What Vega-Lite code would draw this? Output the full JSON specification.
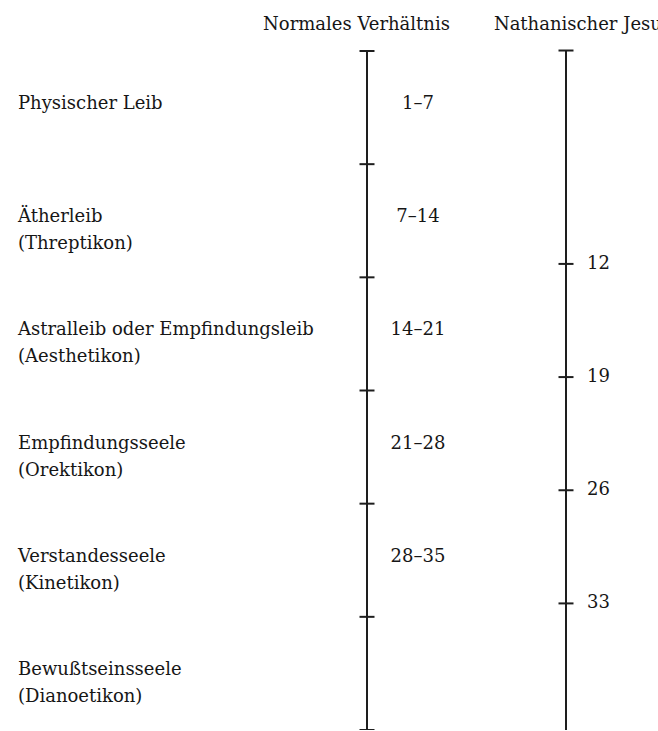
{
  "$schema": "https://vega.github.io/schema/vega-lite/v6.json",
  "width": 658,
  "height": 679,
  "autosize": "none",
  "padding": {"left": 0, "top": 51, "right": 0, "bottom": 0},
  "background": "white",
  "config": {
    "view": {"stroke": null},
    "font": "DejaVu Serif",
    "text": {"font": "DejaVu Serif", "fontSize": 18, "color": "#161616"}
  },
  "datasets": {
    "segments": [
      {"col": 0, "from": 0, "to": 7, "stage": "Physischer Leib", "range": "1–7"},
      {"col": 0, "from": 7, "to": 14, "stage": "Ätherleib\n(Threptikon)", "range": "7–14"},
      {"col": 0, "from": 14, "to": 21, "stage": "Astralleib oder Empfindungsleib\n(Aesthetikon)", "range": "14–21"},
      {"col": 0, "from": 21, "to": 28, "stage": "Empfindungsseele\n(Orektikon)", "range": "21–28"},
      {"col": 0, "from": 28, "to": 35, "stage": "Verstandesseele\n(Kinetikon)", "range": "28–35"},
      {"col": 0, "from": 35, "to": 42, "stage": "Bewußtseinsseele\n(Dianoetikon)", "range": ""}
    ],
    "normalLine": [{"col": 1, "from": 0, "to": 42}],
    "normalTicks": [
      {"col": 1, "age": 0}, {"col": 1, "age": 7}, {"col": 1, "age": 14}, {"col": 1, "age": 21},
      {"col": 1, "age": 28}, {"col": 1, "age": 35}, {"col": 1, "age": 42}
    ],
    "jesusLine": [{"col": 2, "from": -1.2, "to": 41}],
    "jesusTicks": [
      {"col": 2, "age": -1.2, "label": ""},
      {"col": 2, "age": 12, "label": "12"},
      {"col": 2, "age": 19, "label": "19"},
      {"col": 2, "age": 26, "label": "26"},
      {"col": 2, "age": 33, "label": "33"}
    ]
  },
  "resolve": {"scale": {"y": "independent"}},
  "layer": [
    {
      "layer": [
        {
          "data": {"name": "normalLine"},
          "mark": {"type": "rule", "strokeWidth": 2, "color": "#1e1e1e"},
          "encoding": {
            "x": {
              "field": "col", "type": "quantitative",
              "scale": {"domain": [0, 1, 2], "range": [18, 367, 566], "nice": false, "zero": false},
              "axis": {
                "orient": "top", "title": null, "values": [1, 2],
                "labelExpr": "datum.value == 1 ? 'Normales Verhältnis' : 'Nathanischer Jesus'",
                "domain": false, "ticks": false, "tickSize": 0, "grid": false,
                "labelFont": "DejaVu Serif", "labelFontSize": 18, "labelColor": "#161616",
                "labelBaseline": "alphabetic", "labelPadding": 22, "labelLimit": 0,
                "labelFlush": false, "labelOverlap": false, "labelBound": false,
                "labelOffset": {"condition": {"test": "datum.value == 1", "value": -11}, "value": 16}
              }
            },
            "y": {"field": "from", "type": "quantitative", "scale": {"domain": [0, 42], "nice": false, "zero": false, "reverse": true}, "axis": null},
            "y2": {"field": "to"}
          }
        },
        {
          "data": {"name": "normalTicks"},
          "mark": {"type": "tick", "orient": "horizontal", "size": 15, "thickness": 2, "color": "#1e1e1e", "opacity": 1},
          "encoding": {
            "x": {"field": "col", "type": "quantitative"},
            "y": {"field": "age", "type": "quantitative", "axis": null}
          }
        },
        {
          "data": {"name": "segments"},
          "mark": {"type": "text", "align": "left", "baseline": "middle", "dy": 53, "lineBreak": "\n", "lineHeight": 27},
          "encoding": {
            "x": {"field": "col", "type": "quantitative"},
            "y": {"field": "from", "type": "quantitative", "axis": null},
            "text": {"field": "stage", "type": "nominal"}
          }
        },
        {
          "data": {"name": "segments"},
          "mark": {"type": "text", "align": "center", "baseline": "middle", "dy": 53, "dx": 51},
          "encoding": {
            "x": {"datum": 1, "type": "quantitative"},
            "y": {"field": "from", "type": "quantitative", "axis": null},
            "text": {"field": "range", "type": "nominal"}
          }
        }
      ]
    },
    {
      "layer": [
        {
          "data": {"name": "jesusLine"},
          "mark": {"type": "rule", "strokeWidth": 2, "color": "#1e1e1e"},
          "encoding": {
            "x": {"field": "col", "type": "quantitative"},
            "y": {"field": "from", "type": "quantitative", "scale": {"domain": [-1.17, 40.83], "nice": false, "zero": false, "reverse": true}, "axis": null},
            "y2": {"field": "to"}
          }
        },
        {
          "data": {"name": "jesusTicks"},
          "mark": {"type": "tick", "orient": "horizontal", "size": 15, "thickness": 2, "color": "#1e1e1e", "opacity": 1},
          "encoding": {
            "x": {"field": "col", "type": "quantitative"},
            "y": {"field": "age", "type": "quantitative", "axis": null}
          }
        },
        {
          "data": {"name": "jesusTicks"},
          "mark": {"type": "text", "align": "left", "baseline": "middle", "dx": 21},
          "encoding": {
            "x": {"field": "col", "type": "quantitative"},
            "y": {"field": "age", "type": "quantitative", "axis": null},
            "text": {"field": "label", "type": "nominal"}
          }
        }
      ]
    }
  ]
}
